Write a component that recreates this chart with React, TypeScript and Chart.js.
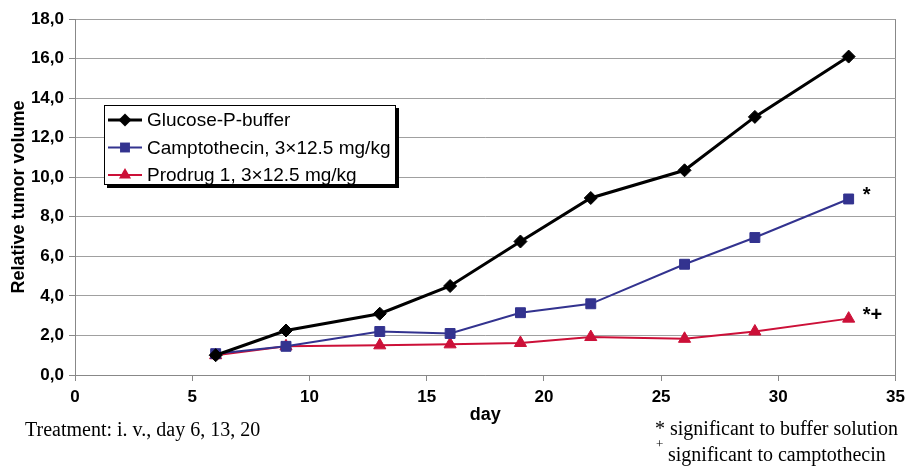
import React, { useEffect, useRef } from 'react';
import { Chart, registerables } from 'chart.js';

Chart.register(...registerables);

const days = [6, 9, 13, 16, 19, 22, 26, 29, 33];
const glucose = [1.0, 2.25, 3.1, 4.5, 6.75, 8.95, 10.35, 13.05, 16.1];
const campto = [1.08, 1.45, 2.2, 2.1, 3.15, 3.6, 5.6, 6.95, 8.9];
const prodrug = [1.0, 1.45, 1.5, 1.55, 1.62, 1.92, 1.83, 2.2, 2.85];
const seriesNames = ['Glucose-P-buffer', 'Camptothecin, 3×12.5 mg/kg', 'Prodrug 1, 3×12.5 mg/kg'];
const significance = ['', '*', '*+'];
const treatmentNote = 'Treatment: i. v., day 6, 13, 20';
const footnote1 = '* significant to buffer solution';
const footnote2Mark = '+';
const footnote2 = 'significant to camptothecin';
const xTitle = 'day';
const yTitle = 'Relative tumor volume';

const SANS = '"Liberation Sans", Arial, sans-serif';
const SERIF = '"Liberation Serif", "Times New Roman", serif';

function drawMarker(ctx: CanvasRenderingContext2D, style: string, x: number, y: number, r: number) {
  ctx.beginPath();
  if (style === 'rectRot') {
    ctx.moveTo(x, y - r);
    ctx.lineTo(x + r, y);
    ctx.lineTo(x, y + r);
    ctx.lineTo(x - r, y);
  } else if (style === 'rect') {
    const s = r * Math.SQRT1_2;
    ctx.rect(x - s, y - s, 2 * s, 2 * s);
  } else {
    const h = r * 1.5;
    const w = r * Math.sqrt(3) / 2;
    ctx.moveTo(x, y - r);
    ctx.lineTo(x + w, y - r + h);
    ctx.lineTo(x - w, y - r + h);
  }
  ctx.closePath();
  ctx.fill();
}

const extrasPlugin = {
  id: 'extras',
  afterDraw(chart: any) {
    const ctx: CanvasRenderingContext2D = chart.ctx;
    const ca = chart.chartArea;
    ctx.save();
    // legend box
    const bx = ca.left + 29, by = ca.top + 86, bw = 292, bh = 80;
    ctx.fillStyle = '#000';
    ctx.fillRect(bx + 3, by + 3, bw, bh);
    ctx.fillStyle = '#fff';
    ctx.fillRect(bx, by, bw, bh);
    ctx.strokeStyle = '#000';
    ctx.lineWidth = 1;
    ctx.strokeRect(bx + 0.5, by + 0.5, bw - 1, bh - 1);
    chart.data.datasets.forEach((ds: any, i: number) => {
      const y = by + 15 + i * 27.5;
      ctx.strokeStyle = ds.borderColor;
      ctx.lineWidth = ds.borderWidth;
      ctx.beginPath();
      ctx.moveTo(bx + 4, y);
      ctx.lineTo(bx + 38, y);
      ctx.stroke();
      ctx.fillStyle = ds.pointBackgroundColor;
      drawMarker(ctx, ds.pointStyle, bx + 21, y, ds.pointRadius);
      ctx.fillStyle = '#000';
      ctx.font = `19px ${SANS}`;
      ctx.textAlign = 'left';
      ctx.textBaseline = 'middle';
      ctx.fillText(ds.label, bx + 43, y + 1);
    });
    // significance marks
    const xs = chart.scales.x, ys = chart.scales.y;
    ctx.font = `bold 20px ${SANS}`;
    ctx.fillStyle = '#000';
    ctx.textAlign = 'left';
    ctx.textBaseline = 'middle';
    chart.data.datasets.forEach((ds: any, i: number) => {
      if (!significance[i]) return;
      const last = ds.data[ds.data.length - 1];
      const px = xs.getPixelForValue(last.x);
      const py = ys.getPixelForValue(last.y);
      ctx.fillText(significance[i], px + 14, py - 3);
    });
    // footnotes
    ctx.font = `20px ${SERIF}`;
    ctx.textBaseline = 'middle';
    ctx.fillText(treatmentNote, 25, 431);
    ctx.fillText(footnote1, 655, 430);
    ctx.font = `13px ${SERIF}`;
    ctx.fillText(footnote2Mark, 656, 445);
    ctx.font = `20px ${SERIF}`;
    ctx.fillText(footnote2, 668, 456);
    ctx.restore();
  },
};

export default function App() {
  const ref = useRef<HTMLCanvasElement | null>(null);
  useEffect(() => {
    if (!ref.current) return;
    const mk = (vals: number[]) => days.map((d, i) => ({ x: d, y: vals[i] }));
    const chart = new Chart(ref.current, {
      type: 'line',
      data: {
        datasets: [
          {
            label: seriesNames[0],
            data: mk(glucose),
            borderColor: '#000000',
            backgroundColor: '#000000',
            pointBackgroundColor: '#000000',
            pointBorderColor: '#000000',
            borderWidth: 3,
            pointStyle: 'rectRot',
            pointRadius: 6.5,
            pointBorderWidth: 1,
          },
          {
            label: seriesNames[1],
            data: mk(campto),
            borderColor: '#33338f',
            backgroundColor: '#33338f',
            pointBackgroundColor: '#33338f',
            pointBorderColor: '#33338f',
            borderWidth: 2,
            pointStyle: 'rect',
            pointRadius: 7,
            pointBorderWidth: 1,
          },
          {
            label: seriesNames[2],
            data: mk(prodrug),
            borderColor: '#cc1038',
            backgroundColor: '#cc1038',
            pointBackgroundColor: '#cc1038',
            pointBorderColor: '#cc1038',
            borderWidth: 2,
            pointStyle: 'triangle',
            pointRadius: 7,
            pointBorderWidth: 1,
          },
        ] as any,
      },
      options: {
        animation: false,
        responsive: true,
        maintainAspectRatio: false,
        layout: { padding: { top: 19, right: 15, left: 0, bottom: 0 } },
        plugins: { legend: { display: false }, tooltip: { enabled: false } },
        scales: {
          x: {
            type: 'linear',
            min: 0,
            max: 35,
            afterFit: (s: any) => { s.height = 91; },
            ticks: {
              stepSize: 5,
              padding: 6,
              color: '#000',
              font: { family: SANS, size: 17, weight: 'bold' },
            },
            grid: {
              color: (c: any) => (c.tick && c.tick.value === 35 ? '#888888' : 'rgba(0,0,0,0)'),
              tickColor: '#888888',
              tickLength: 6,
            },
            border: { color: '#888888', width: 1 },
            title: {
              display: true,
              text: xTitle,
              color: '#000',
              font: { family: SANS, size: 18, weight: 'bold' },
              padding: { top: 0, bottom: 40 },
            },
          },
          y: {
            min: 0,
            max: 18,
            afterFit: (s: any) => { s.width = 75; },
            ticks: {
              stepSize: 2,
              padding: 5,
              color: '#000',
              font: { family: SANS, size: 17, weight: 'bold' },
              callback: (v: any) => Number(v).toFixed(1).replace('.', ','),
            },
            grid: { color: '#a0a0a0', tickColor: '#888888', tickLength: 6 },
            border: { color: '#888888', width: 1 },
            title: {
              display: true,
              text: yTitle,
              color: '#000',
              font: { family: SANS, size: 18, weight: 'bold' },
              padding: { top: 8, bottom: 0 },
            },
          },
        },
      } as any,
      plugins: [extrasPlugin],
    });
    return () => chart.destroy();
  }, []);
  return (
    <div style={{ position: 'fixed', left: 0, top: 0, width: 911, height: 466, background: '#fff' }}>
      <canvas ref={ref} />
    </div>
  );
}
